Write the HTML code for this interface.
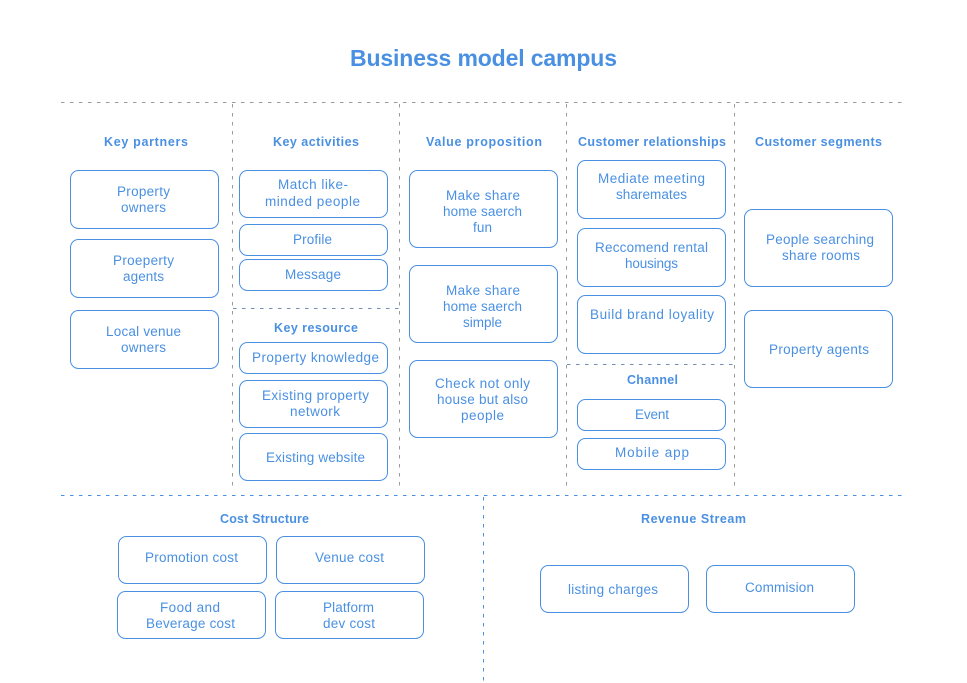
<!DOCTYPE html>
<html><head><meta charset="utf-8">
<style>
html,body{margin:0;padding:0;background:#fff;width:967px;height:683px;overflow:hidden}
svg{display:block}
text{font-family:"Liberation Sans",sans-serif;fill:#4a90e2}
.t{font-size:13.5px}
.h{font-size:12.5px;font-weight:bold}
rect{fill:#fff;stroke:#4a90e2;stroke-width:1}
.g{stroke:#9b9b9b;stroke-width:1;stroke-dasharray:3.5 5.5;fill:none}
.m{stroke:#6f8fb5;stroke-width:1;stroke-dasharray:3.5 5.5;fill:none}
.b{stroke:#4a90e2;stroke-width:1;stroke-dasharray:3.5 5.5;fill:none}
</style></head><body>
<svg width="967" height="683" viewBox="0 0 967 683" xmlns="http://www.w3.org/2000/svg">
<path class="g" d="M61 102.500H902M232.500 104V487M399.500 104V487M566.500 104V487M734.500 104V487"/>
<path class="m" d="M233 308.500H400M567 364.500H734"/>
<path class="b" d="M61 495.500H902M483.500 497V682"/>

<g>
<rect x="70.500" y="170.500" width="148" height="58" rx="8"/>
<rect x="70.500" y="239.500" width="148" height="58" rx="8"/>
<rect x="70.500" y="310.500" width="148" height="58" rx="8"/>
<rect x="239.500" y="170.500" width="148" height="47" rx="8"/>
<rect x="239.500" y="224.500" width="148" height="31" rx="8"/>
<rect x="239.500" y="259.500" width="148" height="31" rx="8"/>
<rect x="239.500" y="342.500" width="148" height="31" rx="8"/>
<rect x="239.500" y="380.500" width="148" height="47" rx="8"/>
<rect x="239.500" y="433.500" width="148" height="47" rx="8"/>
<rect x="409.500" y="170.500" width="148" height="77" rx="8"/>
<rect x="409.500" y="265.500" width="148" height="77" rx="8"/>
<rect x="409.500" y="360.500" width="148" height="77" rx="8"/>
<rect x="577.500" y="160.500" width="148" height="58" rx="8"/>
<rect x="577.500" y="228.500" width="148" height="58" rx="8"/>
<rect x="577.500" y="295.500" width="148" height="58" rx="8"/>
<rect x="577.500" y="399.500" width="148" height="31" rx="8"/>
<rect x="577.500" y="438.500" width="148" height="31" rx="8"/>
<rect x="744.500" y="209.500" width="148" height="77" rx="8"/>
<rect x="744.500" y="310.500" width="148" height="77" rx="8"/>
<rect x="118.500" y="536.500" width="148" height="47" rx="8"/>
<rect x="276.500" y="536.500" width="148" height="47" rx="8"/>
<rect x="117.500" y="591.500" width="148" height="47" rx="8"/>
<rect x="275.500" y="591.500" width="148" height="47" rx="8"/>
<rect x="540.500" y="565.500" width="148" height="47" rx="8"/>
<rect x="706.500" y="565.500" width="148" height="47" rx="8"/>
</g>

<text x="350" y="66" font-size="23" font-weight="bold" textLength="267">Business model campus</text>

<g class="h">
<text class="h" x="104" y="146" textLength="84">Key partners</text>
<text class="h" x="273" y="146" textLength="86">Key activities</text>
<text class="h" x="426" y="146" textLength="116">Value proposition</text>
<text class="h" x="578" y="146" textLength="148">Customer relationships</text>
<text class="h" x="755" y="146" textLength="127">Customer segments</text>
<text class="h" x="274" y="332" textLength="84">Key resource</text>
<text class="h" x="627" y="384" textLength="51">Channel</text>
<text class="h" x="220" y="523" textLength="89">Cost Structure</text>
<text class="h" x="641" y="523" textLength="105">Revenue Stream</text>
</g>

<g>
<text class="t" x="117" y="196" textLength="53">Property</text>
<text class="t" x="121" y="212" textLength="45">owners</text>
<text class="t" x="113" y="265" textLength="61">Proeperty</text>
<text class="t" x="123" y="281" textLength="41">agents</text>
<text class="t" x="106" y="336" textLength="75">Local venue</text>
<text class="t" x="121" y="352" textLength="45">owners</text>

<text class="t" x="278" y="189" textLength="70">Match like-</text>
<text class="t" x="265" y="206" textLength="95">minded people</text>
<text class="t" x="293" y="244" textLength="39">Profile</text>
<text class="t" x="285" y="279" textLength="56">Message</text>
<text class="t" x="252" y="362" textLength="127">Property knowledge</text>
<text class="t" x="262" y="400" textLength="107">Existing property</text>
<text class="t" x="290" y="416" textLength="50">network</text>
<text class="t" x="266" y="462" textLength="99">Existing website</text>

<text class="t" x="446" y="200" textLength="74">Make share</text>
<text class="t" x="443" y="216" textLength="79">home saerch</text>
<text class="t" x="473" y="232" textLength="19">fun</text>
<text class="t" x="446" y="295" textLength="74">Make share</text>
<text class="t" x="443" y="311" textLength="79">home saerch</text>
<text class="t" x="463" y="327" textLength="39">simple</text>
<text class="t" x="435" y="388" textLength="95">Check not only</text>
<text class="t" x="437" y="404" textLength="91">house but also</text>
<text class="t" x="461" y="420" textLength="43">people</text>

<text class="t" x="598" y="183" textLength="107">Mediate meeting</text>
<text class="t" x="616" y="199" textLength="71">sharemates</text>
<text class="t" x="595" y="252" textLength="113">Reccomend rental</text>
<text class="t" x="625" y="268" textLength="53">housings</text>
<text class="t" x="590" y="319" textLength="124">Build brand loyality</text>
<text class="t" x="635" y="419" textLength="34">Event</text>
<text class="t" x="615" y="457" textLength="74">Mobile app</text>

<text class="t" x="766" y="244" textLength="108">People searching</text>
<text class="t" x="782" y="260" textLength="78">share rooms</text>
<text class="t" x="769" y="354" textLength="100">Property agents</text>

<text class="t" x="145" y="562" textLength="93">Promotion cost</text>
<text class="t" x="315" y="562" textLength="69">Venue cost</text>
<text class="t" x="160" y="612" textLength="60">Food and</text>
<text class="t" x="146" y="628" textLength="89">Beverage cost</text>
<text class="t" x="323" y="612" textLength="51">Platform</text>
<text class="t" x="323" y="628" textLength="52">dev cost</text>
<text class="t" x="568" y="594" textLength="90">listing charges</text>
<text class="t" x="745" y="592" textLength="69">Commision</text>
</g>
</svg>
</body></html>
